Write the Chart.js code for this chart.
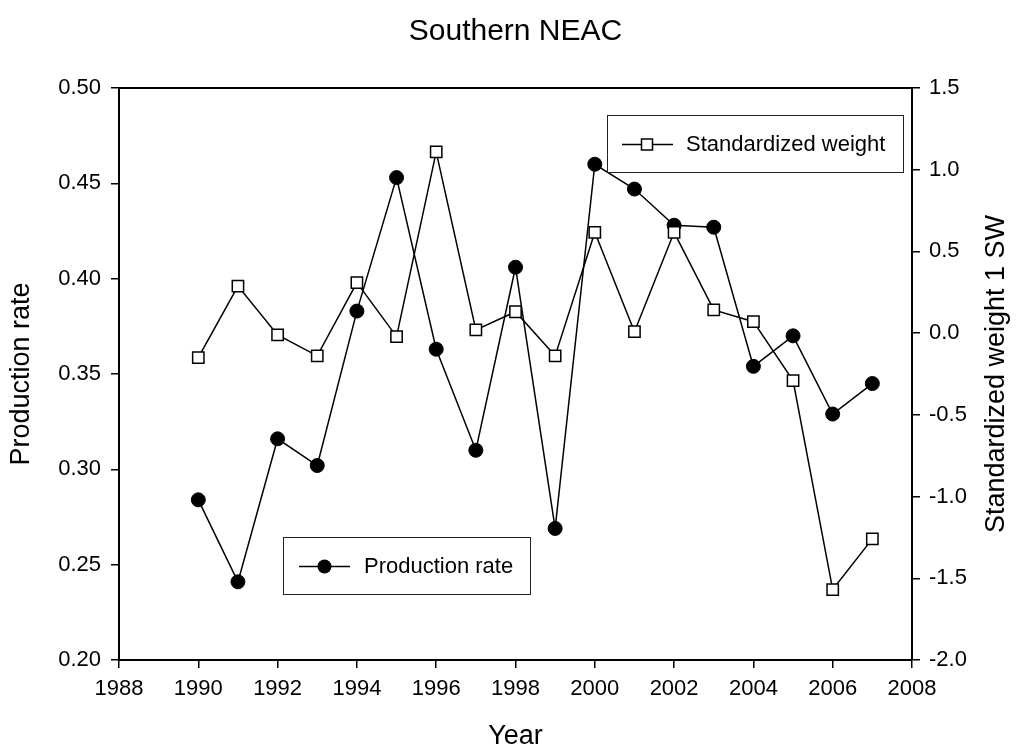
<!DOCTYPE html>
<html>
<head>
<meta charset="utf-8">
<script src="https://cdn.jsdelivr.net/npm/chart.js@4"></script>
<style>
  html, body { margin: 0; padding: 0; background: #fff; }
  #wrap { width: 1016px; height: 752px; }
</style>
</head>
<body>
<div id="wrap"><canvas id="chart" width="1016" height="752"></canvas></div>
<script>
const years = [1990, 1991, 1992, 1993, 1994, 1995, 1996, 1997, 1998, 1999,
               2000, 2001, 2002, 2003, 2004, 2005, 2006, 2007];
const productionRate = [0.284, 0.241, 0.316, 0.302, 0.383, 0.453, 0.363, 0.310, 0.406, 0.269,
                        0.460, 0.447, 0.428, 0.427, 0.354, 0.370, 0.329, 0.345];
const standardizedWeight = [-0.150, 0.288, -0.011, -0.139, 0.309, -0.021, 1.109, 0.020, 0.131, -0.139,
                            0.617, 0.009, 0.617, 0.142, 0.070, -0.290, -1.569, -1.259];
const yearTicks = [1988, 1990, 1992, 1994, 1996, 1998, 2000, 2002, 2004, 2006, 2008];
const rateTicks = [0.20, 0.25, 0.30, 0.35, 0.40, 0.45, 0.50];
const weightTicks = [-2.0, -1.5, -1.0, -0.5, 0.0, 0.5, 1.0, 1.5];

const FONT = "'Liberation Sans', Arial, sans-serif";
const tickFont = { family: FONT, size: 22 };

function fixTicks(list) {
  return scale => { scale.ticks = list.map(v => ({ value: v })); };
}

// title, axis titles, top frame line and the two legend boxes
const decor = {
  id: 'decor',
  afterDraw(chart) {
    const { ctx, chartArea: a } = chart;
    ctx.save();
    ctx.strokeStyle = '#000';
    ctx.lineWidth = 2;
    ctx.beginPath();
    ctx.moveTo(a.left - 1, a.top);
    ctx.lineTo(a.right + 1, a.top);
    ctx.stroke();

    ctx.fillStyle = '#000';
    ctx.textAlign = 'center';
    ctx.textBaseline = 'middle';
    ctx.font = '30px ' + FONT;
    ctx.fillText('Southern NEAC', (a.left + a.right) / 2, 32);
    ctx.font = '27px ' + FONT;
    ctx.fillText('Year', (a.left + a.right) / 2, 737);
    const midY = (a.top + a.bottom) / 2;
    ctx.save();
    ctx.translate(22, midY);
    ctx.rotate(-Math.PI / 2);
    ctx.fillText('Production rate', 0, 0);
    ctx.restore();
    ctx.save();
    ctx.translate(997, midY);
    ctx.rotate(-Math.PI / 2);
    ctx.fillText('Standardized weight 1 SW', 0, 0);
    ctx.restore();

    ctx.font = '22px ' + FONT;
    // legend: production rate
    ctx.lineWidth = 1;
    ctx.strokeStyle = '#222';
    ctx.strokeRect(283.5, 537.5, 247, 57);
    ctx.strokeStyle = '#000';
    ctx.lineWidth = 1.5;
    ctx.beginPath();
    ctx.moveTo(299, 566.5);
    ctx.lineTo(350, 566.5);
    ctx.stroke();
    ctx.beginPath();
    ctx.arc(324.5, 566.5, 7, 0, Math.PI * 2);
    ctx.fill();
    ctx.textAlign = 'left';
    ctx.fillText('Production rate', 364, 567);

    // legend: standardized weight
    ctx.lineWidth = 1;
    ctx.strokeStyle = '#222';
    ctx.strokeRect(607.5, 115.5, 296, 57);
    ctx.strokeStyle = '#000';
    ctx.lineWidth = 1.5;
    ctx.beginPath();
    ctx.moveTo(622, 144.5);
    ctx.lineTo(673, 144.5);
    ctx.stroke();
    ctx.fillStyle = '#fff';
    ctx.fillRect(641.5, 139, 11, 11);
    ctx.strokeRect(641.5, 139, 11, 11);
    ctx.fillStyle = '#000';
    ctx.fillText('Standardized weight', 686, 145);
    ctx.restore();
  }
};

function axisGrid() {
  return { drawOnChartArea: false, drawTicks: true, tickLength: 8, color: '#000', lineWidth: 1.5 };
}

new Chart(document.getElementById('chart'), {
  type: 'line',
  data: {
    datasets: [
      {
        label: 'Standardized weight',
        data: years.map((y, i) => ({ x: y, y: standardizedWeight[i] })),
        yAxisID: 'yR',
        order: 0,
        borderColor: '#000',
        borderWidth: 1.5,
        pointStyle: 'rect',
        pointRadius: 8,
        pointBackgroundColor: '#fff',
        pointBorderColor: '#000',
        pointBorderWidth: 1.5,
        tension: 0,
        fill: false
      },
      {
        label: 'Production rate',
        data: years.map((y, i) => ({ x: y, y: productionRate[i] })),
        yAxisID: 'yL',
        order: 1,
        borderColor: '#000',
        borderWidth: 1.5,
        pointStyle: 'circle',
        pointRadius: 7,
        pointBackgroundColor: '#000',
        pointBorderColor: '#000',
        pointBorderWidth: 1,
        tension: 0,
        fill: false
      }
    ]
  },
  options: {
    responsive: false,
    animation: false,
    devicePixelRatio: 1,
    layout: { padding: { top: 88, left: 0, right: 0, bottom: 0 } },
    plugins: { legend: { display: false }, tooltip: { enabled: false }, title: { display: false } },
    scales: {
      x: {
        type: 'linear',
        position: 'bottom',
        min: 1988,
        max: 2008,
        afterBuildTicks: fixTicks(yearTicks),
        afterFit: s => { s.height = 92; },
        grid: axisGrid(),
        border: { display: true, color: '#000', width: 2 },
        ticks: { color: '#000', font: tickFont, padding: 8, maxRotation: 0, callback: v => String(v) }
      },
      yL: {
        type: 'linear',
        position: 'left',
        min: 0.2,
        max: 0.5,
        afterBuildTicks: fixTicks(rateTicks),
        afterFit: s => { s.width = 119; },
        grid: axisGrid(),
        border: { display: true, color: '#000', width: 2 },
        ticks: { color: '#000', font: tickFont, padding: 10, callback: v => Number(v).toFixed(2) }
      },
      yR: {
        type: 'linear',
        position: 'right',
        min: -2,
        max: 1.5,
        afterBuildTicks: fixTicks(weightTicks),
        afterFit: s => { s.width = 104; },
        grid: axisGrid(),
        border: { display: true, color: '#000', width: 2 },
        ticks: { color: '#000', font: tickFont, padding: 9, callback: v => Number(v).toFixed(1) }
      }
    }
  },
  plugins: [decor]
});
</script>
</body>
</html>
